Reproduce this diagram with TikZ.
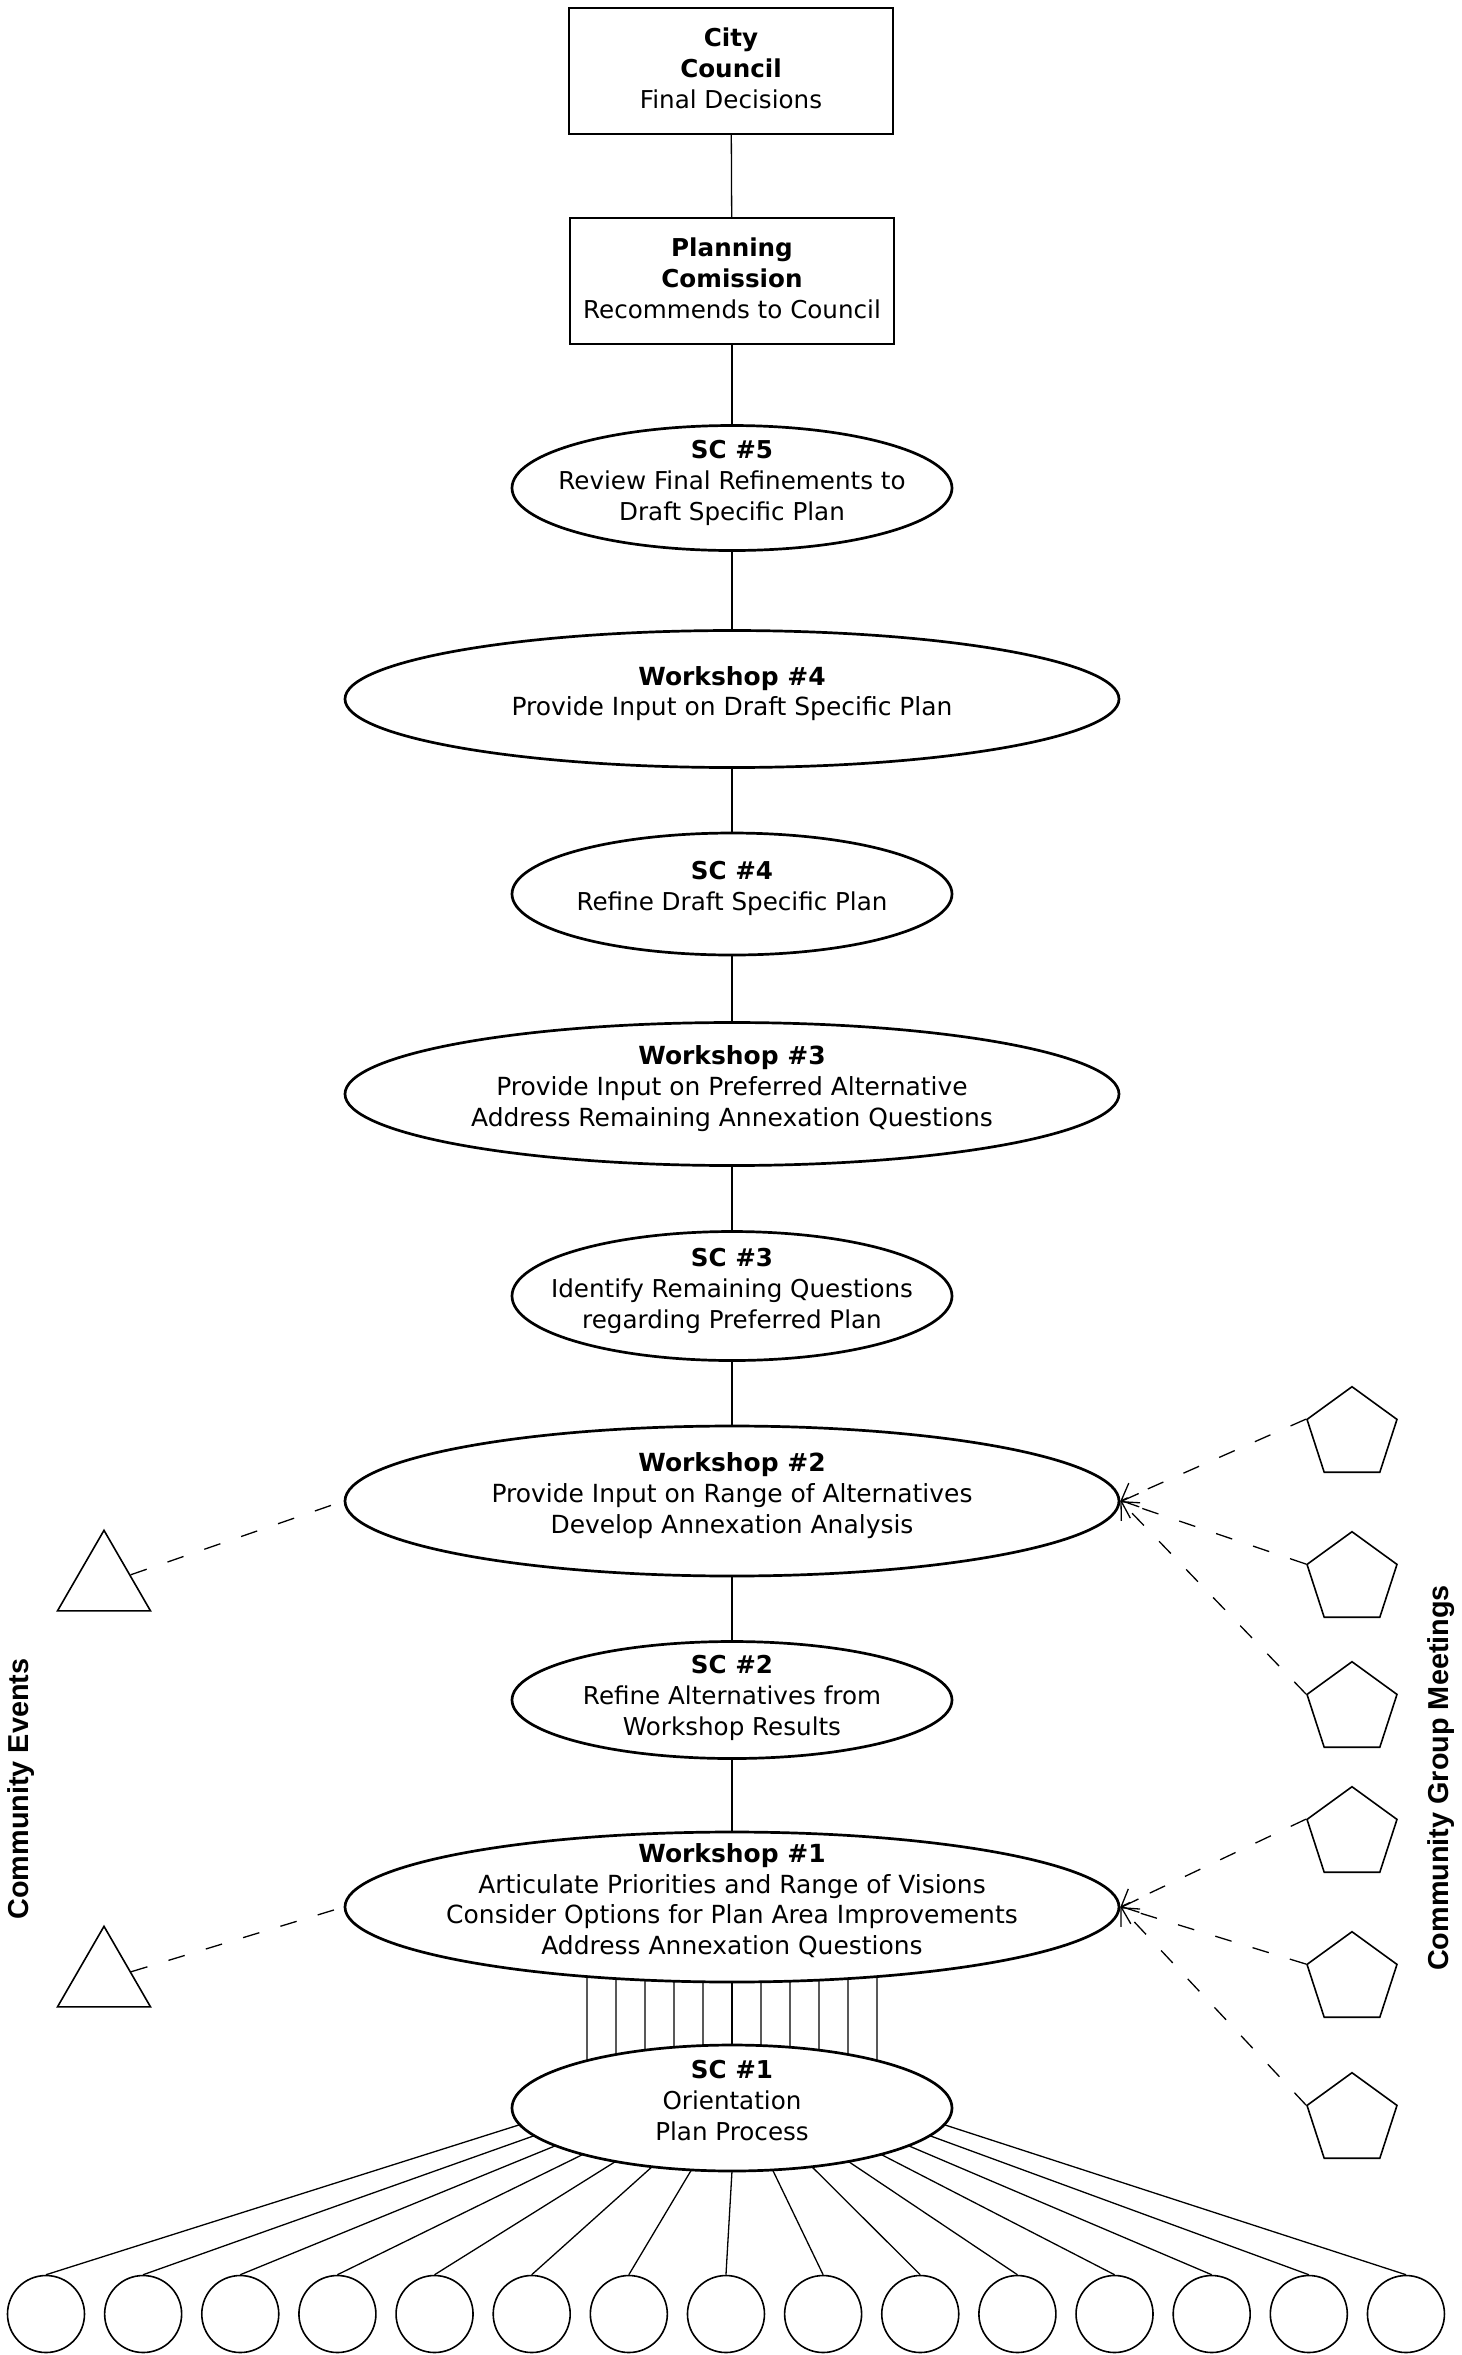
\documentclass[tikz,border=0pt]{standalone}
\usepackage{fontspec}
\setmainfont{DejaVu Sans}
\newfontfamily\sidefont{Liberation Sans}
\usetikzlibrary{shapes.geometric,arrows.meta,calc}

\tikzset{
  box/.style={draw,line width=0.18mm,minimum width=32.4mm,minimum height=12.6mm,inner sep=0,text depth=1.5pt,align=center},
  sc/.style={draw,ellipse,line width=0.27mm,minimum width=44mm,minimum height=12.4mm,inner sep=-3mm,text depth=4.5pt,align=center},
  workshop/.style={sc,minimum width=77.4mm,minimum height=15mm,font=\fontsize{7.1}{8.76}\selectfont},
  event/.style={draw,regular polygon,regular polygon sides=3,minimum size=10.74mm,inner sep=0,line width=0.16mm},
  meeting/.style={draw,regular polygon,regular polygon sides=5,minimum size=9.46mm,inner sep=0,line width=0.16mm},
  group/.style={draw,circle,minimum size=7.7mm,inner sep=0,line width=0.16mm},
  link/.style={line width=0.13mm},
  feed/.style={line width=0.13mm,dash pattern=on 1.7mm off 2.2mm},
  tip/.style={-{Straight Barb[length=1.4mm,width=2.6mm]}},
  side/.style={font=\sidefont\bfseries\fontsize{8.2}{10}\selectfont,rotate=90}
}

\begin{document}
\begin{tikzpicture}[x=0.1mm,y=-0.1mm,font=\fontsize{7}{8.76}\selectfont]
  \useasboundingbox (0,0) rectangle (1461,2355);
  \node[box] (council) at (731,71) {\textbf{City}\\\textbf{Council}\\Final Decisions};
  \node[box] (planning) at (732,281) {\textbf{Planning}\\\textbf{Comission}\\Recommends to Council};
  \node[sc,minimum height=12.5mm] (sc5) at (732,488) {\textbf{SC \#5}\\Review Final Refinements to\\Draft Specific Plan};
  \node[workshop,minimum height=13.7mm] (w4) at (732,699) {\textbf{Workshop \#4}\\Provide Input on Draft Specific Plan};
  \node[sc,minimum height=12.2mm] (sc4) at (732,894) {\textbf{SC \#4}\\Refine Draft Specific Plan};
  \node[workshop,minimum height=14.3mm] (w3) at (732,1094) {\textbf{Workshop \#3}\\Provide Input on Preferred Alternative\\Address Remaining Annexation Questions};
  \node[sc,minimum height=12.9mm] (sc3) at (732,1296) {\textbf{SC \#3}\\Identify Remaining Questions\\regarding Preferred Plan};
  \node[workshop] (w2) at (732,1501) {\textbf{Workshop \#2}\\Provide Input on Range of Alternatives\\Develop Annexation Analysis};
  \node[sc,minimum height=11.7mm,text depth=2.5pt] (sc2) at (732,1700) {\textbf{SC \#2}\\Refine Alternatives from\\Workshop Results};
  \node[workshop] (w1) at (732,1907) {\textbf{Workshop \#1}\\Articulate Priorities and Range of Visions\\Consider Options for Plan Area Improvements\\Address Annexation Questions};
  \node[sc,minimum height=12.6mm] (sc1) at (732,2108) {\textbf{SC \#1}\\Orientation\\Plan Process};

  \draw[link] (council) -- (planning);
  \draw[link] (planning) -- (sc5);
  \draw[link] (sc5) -- (w4);
  \draw[link] (w4) -- (sc4);
  \draw[link] (sc4) -- (w3);
  \draw[link] (w3) -- (sc3);
  \draw[link] (sc3) -- (w2);
  \draw[link] (w2) -- (sc2);
  \draw[link] (sc2) -- (w1);
  \foreach \dx in {-145,-116,...,145}
    \draw[link] ($(w1)+({acos(\dx/387)}:387 and 75)$) -- ($(sc1)+({-acos(\dx/218.5)}:218.5 and 63)$);

  % stakeholder groups
  \foreach \i in {0,...,14} {
    \node[group] (c\i) at ({46+97.14*\i},2314) {};
    \draw[link] ($(sc1)+({165-150/14*\i}:218.5 and 63)$) -- (c\i.north);
  }

  % community events
  \node[event] (e1) at (104,1584) {};
  \node[event] (e2) at (104,1980) {};
  \draw[feed] (e1) -- (w2.west);
  \draw[feed] (e2) -- (w1.west);
  \node[side] (events) at (21,1789) {Community Events};

  % community group meetings
  \node[meeting] (m1) at (1352,1434) {};
  \node[meeting] (m2) at (1352,1579) {};
  \node[meeting] (m3) at (1352,1709) {};
  \node[meeting] (m4) at (1352,1834) {};
  \node[meeting] (m5) at (1352,1979) {};
  \node[meeting] (m6) at (1352,2120) {};
  \draw[feed,tip] (m1.corner 2) -- (w2.east);
  \draw[feed,tip] (m2.corner 2) -- (w2.east);
  \draw[feed,tip] (m3.corner 2) -- (w2.east);
  \draw[feed,tip] (m4.corner 2) -- (w1.east);
  \draw[feed,tip] (m5.corner 2) -- (w1.east);
  \draw[feed,tip] (m6.corner 2) -- (w1.east);
  \node[side] (meetings) at (1441,1778) {Community Group Meetings};
\end{tikzpicture}
\end{document}
